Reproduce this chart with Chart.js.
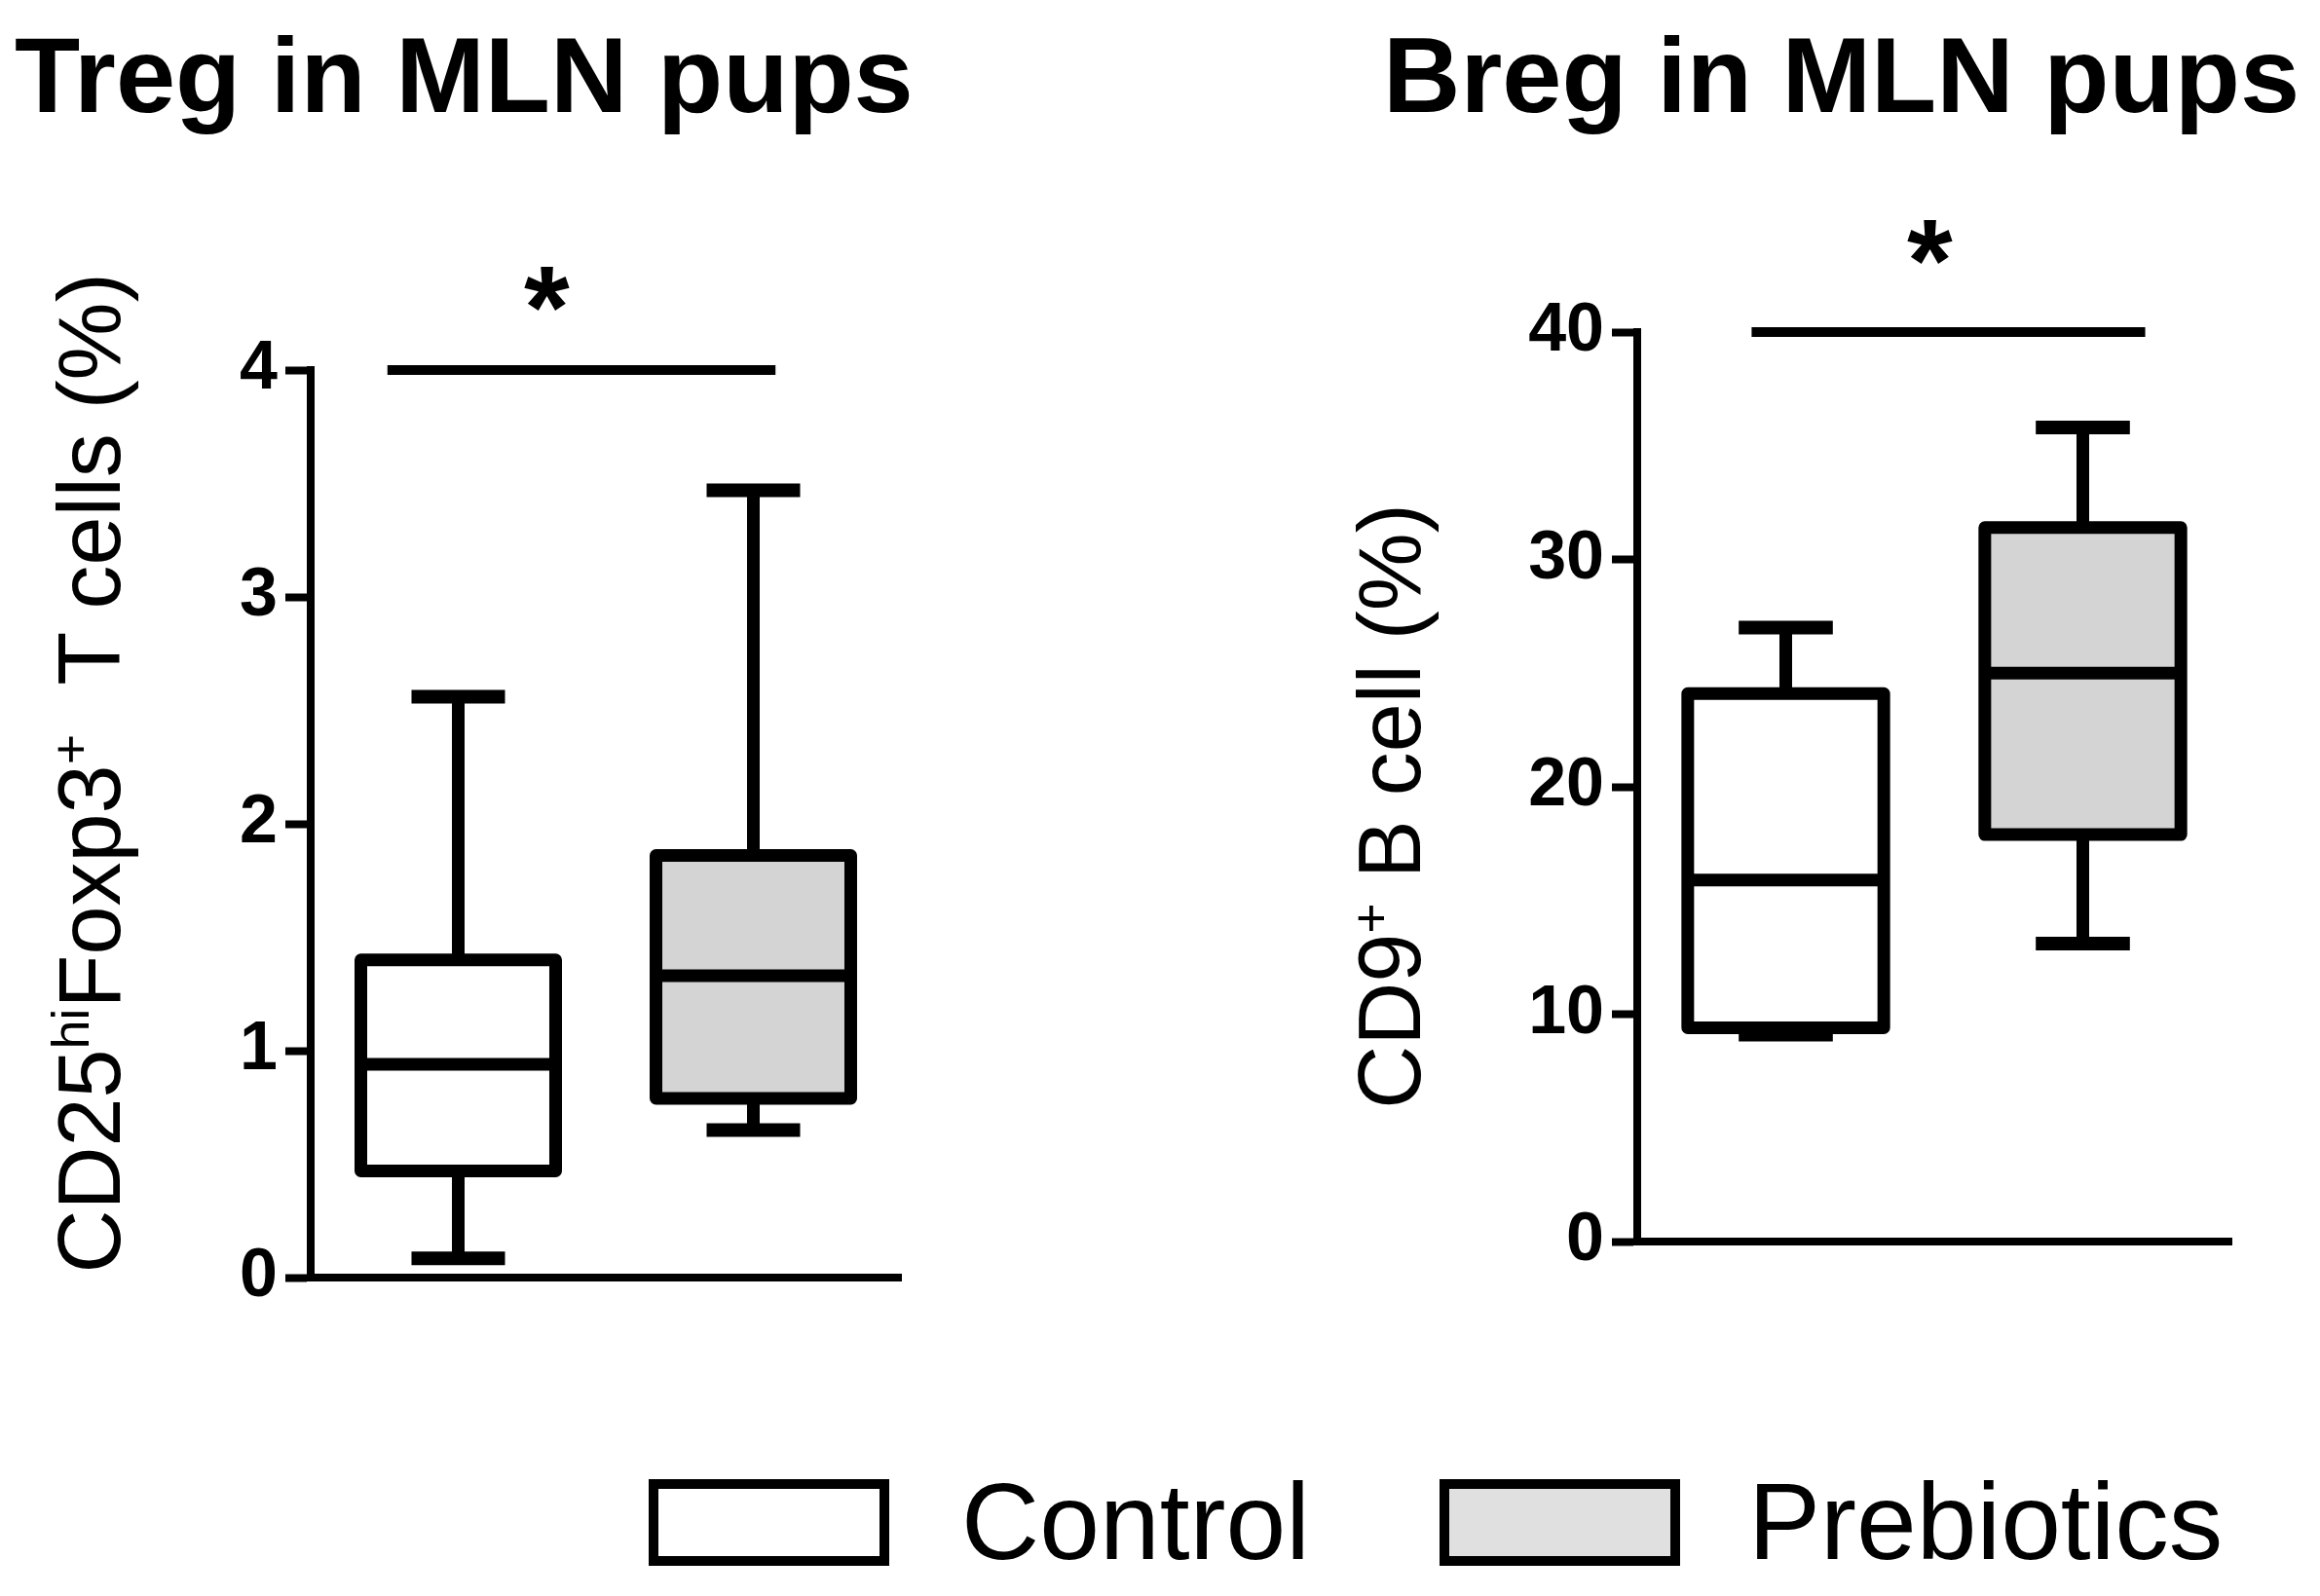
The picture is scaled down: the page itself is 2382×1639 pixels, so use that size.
<!DOCTYPE html>
<html>
<head>
<meta charset="utf-8">
<script src="https://cdn.jsdelivr.net/npm/chart.js@4.4.1/dist/chart.umd.min.js"></script>
<style>
    body { margin: 0; background: #fff; width: 2382px; height: 1639px; overflow: hidden; position: relative; font-family: "Liberation Sans", Arial, sans-serif; color: #000; }
    canvas { position: absolute; }
    .title { position: absolute; font-weight: bold; font-size: 110px; line-height: 1; white-space: nowrap; }
    .ylabel { position: absolute; font-size: 90px; line-height: 1; white-space: nowrap; transform: translate(-50%, -50%) rotate(-90deg); }
    .ylabel sup { font-size: 0.6em; vertical-align: 0.6em; line-height: 0; }
    .legend-box { position: absolute; width: 227px; height: 69px; border: 10px solid #000; }
    .legend-text { position: absolute; font-size: 111px; line-height: 1; white-space: nowrap; }
</style>
</head>
<body>

<div class="title" style="left:15px; top:22px;">Treg in MLN pups</div>
<div class="title" style="left:1420px; top:22px;">Breg in MLN pups</div>

<div class="ylabel" style="left:92px; top:794px;">CD25<sup>hi</sup>Foxp3<sup>+</sup>&nbsp;&nbsp;T cells (%)</div>
<div class="ylabel" style="left:1427px; top:828px;">CD9<sup>+</sup> B cell (%)</div>

<canvas id="tregCanvas" width="1000" height="1400" style="left:0px; top:0px;"></canvas>
<canvas id="bregCanvas" width="1082" height="1400" style="left:1300px; top:0px;"></canvas>

<div class="legend-box" style="left:666px; top:1519px; background:#fff;"></div>
<div class="legend-text" id="legendControl" style="left:987px; top:1508px;"></div>
<div class="legend-box" style="left:1478px; top:1519px; background:#e0e0e0;"></div>
<div class="legend-text" id="legendPrebiotics" style="left:1795px; top:1508px;"></div>

<script>
// groups and box plot values
var groups = ['Control', 'Prebiotics'];

var tregMin = [0.085, 0.65];
var tregQ1 = [0.47, 0.79];
var tregMedian = [0.94, 1.33];
var tregQ3 = [1.40, 1.86];
var tregMax = [2.56, 3.47];
var tregTicks = [0, 1, 2, 3, 4];

var bregMin = [9.1, 13.1];
var bregQ1 = [9.4, 17.9];
var bregMedian = [15.9, 25.0];
var bregQ3 = [24.1, 31.4];
var bregMax = [27.0, 35.8];
var bregTicks = [0, 10, 20, 30, 40];

var groupFills = ['#ffffff', '#d4d4d4'];

document.getElementById('legendControl').textContent = groups[0];
document.getElementById('legendPrebiotics').textContent = groups[1];

// whiskers, median and box outline on top of the floating bars
var boxPlotPlugin = {
    id: 'boxPlot',
    afterDatasetsDraw: function (chart, args, opts) {
        var ctx = chart.ctx;
        var y = chart.scales.y;
        var x = chart.scales.x;
        var meta = chart.getDatasetMeta(0);
        ctx.save();
        ctx.strokeStyle = '#000';
        ctx.lineCap = 'butt';

        meta.data.forEach(function (bar, i) {
            var cx = bar.x;
            var half = bar.width / 2;
            var capHalf = bar.width * 0.24;
            var top = y.getPixelForValue(opts.q3[i]);
            var bottom = y.getPixelForValue(opts.q1[i]);

            // whiskers
            ctx.lineWidth = 13;
            ctx.beginPath();
            ctx.moveTo(cx, top);
            ctx.lineTo(cx, y.getPixelForValue(opts.max[i]));
            ctx.moveTo(cx, bottom);
            ctx.lineTo(cx, y.getPixelForValue(opts.min[i]));
            ctx.stroke();

            // caps
            ctx.lineWidth = 14;
            ctx.beginPath();
            ctx.moveTo(cx - capHalf, y.getPixelForValue(opts.max[i]));
            ctx.lineTo(cx + capHalf, y.getPixelForValue(opts.max[i]));
            ctx.moveTo(cx - capHalf, y.getPixelForValue(opts.min[i]));
            ctx.lineTo(cx + capHalf, y.getPixelForValue(opts.min[i]));
            ctx.stroke();

            // box
            ctx.fillStyle = groupFills[i];
            ctx.fillRect(cx - half, top, bar.width, bottom - top);
            ctx.lineWidth = 13;
            ctx.lineJoin = 'round';
            ctx.strokeRect(cx - half, top, bar.width, bottom - top);

            // median
            ctx.beginPath();
            ctx.moveTo(cx - half, y.getPixelForValue(opts.median[i]));
            ctx.lineTo(cx + half, y.getPixelForValue(opts.median[i]));
            ctx.stroke();
        });

        // significance bar and star
        var sigY = y.getPixelForValue(opts.sigValue);
        ctx.lineWidth = 10;
        ctx.beginPath();
        ctx.moveTo(x.getPixelForValue(opts.sigFrom), sigY);
        ctx.lineTo(x.getPixelForValue(opts.sigTo), sigY);
        ctx.stroke();

        ctx.fillStyle = '#000';
        ctx.font = 'bold 120px "Liberation Sans", Arial, sans-serif';
        ctx.textAlign = 'center';
        ctx.textBaseline = 'alphabetic';
        ctx.fillText('*', x.getPixelForValue(opts.sigStar), sigY - opts.starLift);
        ctx.restore();
    }
};

function makeBoxChart(canvasId, ticks, q1, q3, extra, padding) {
    var ctx = document.getElementById(canvasId).getContext('2d');
    var maxTick = ticks[ticks.length - 1];
    return new Chart(ctx, {
        type: 'bar',
        data: {
            labels: groups,
            datasets: [{
                data: groups.map(function (g, i) { return [q1[i], q3[i]]; }),
                backgroundColor: groupFills,
                borderWidth: 0,
                barPercentage: 0.66,
                categoryPercentage: 1
            }]
        },
        options: {
            responsive: false,
            devicePixelRatio: 1,
            animation: false,
            layout: { padding: padding },
            plugins: {
                legend: { display: false },
                tooltip: { enabled: false },
                boxPlot: extra
            },
            scales: {
                x: {
                    grid: { display: false },
                    ticks: { display: false },
                    border: { display: true, color: '#000', width: 8 },
                    afterFit: function (scale) { scale.height = 0; }
                },
                y: {
                    min: 0,
                    max: maxTick,
                    afterBuildTicks: function (scale) {
                        scale.ticks = ticks.map(function (v) { return { value: v }; });
                    },
                    ticks: {
                        color: '#000',
                        padding: 8,
                        font: { family: '"Liberation Sans", Arial, sans-serif', size: 70, weight: 'bold' }
                    },
                    grid: {
                        drawOnChartArea: false,
                        drawTicks: true,
                        tickLength: 26,
                        tickWidth: 8,
                        tickColor: '#000'
                    },
                    border: { display: true, color: '#000', width: 8 },
                    afterFit: function (scale) { scale.width = 150; }
                }
            }
        },
        plugins: [boxPlotPlugin]
    });
}

makeBoxChart('tregCanvas', tregTicks, tregQ1, tregQ3, {
    min: tregMin, q1: tregQ1, median: tregMedian, q3: tregQ3, max: tregMax,
    sigValue: 4, sigFrom: -0.24, sigTo: 1.075, sigStar: 0.30, starLift: 23
}, { left: 169, right: 75, top: 380, bottom: 88 });

makeBoxChart('bregCanvas', bregTicks, bregQ1, bregQ3, {
    min: bregMin, q1: bregQ1, median: bregMedian, q3: bregQ3, max: bregMax,
    sigValue: 40, sigFrom: -0.115, sigTo: 1.21, sigStar: 0.485, starLift: 32
}, { left: 231, right: 91, top: 341, bottom: 125 });
</script>
</body>
</html>
